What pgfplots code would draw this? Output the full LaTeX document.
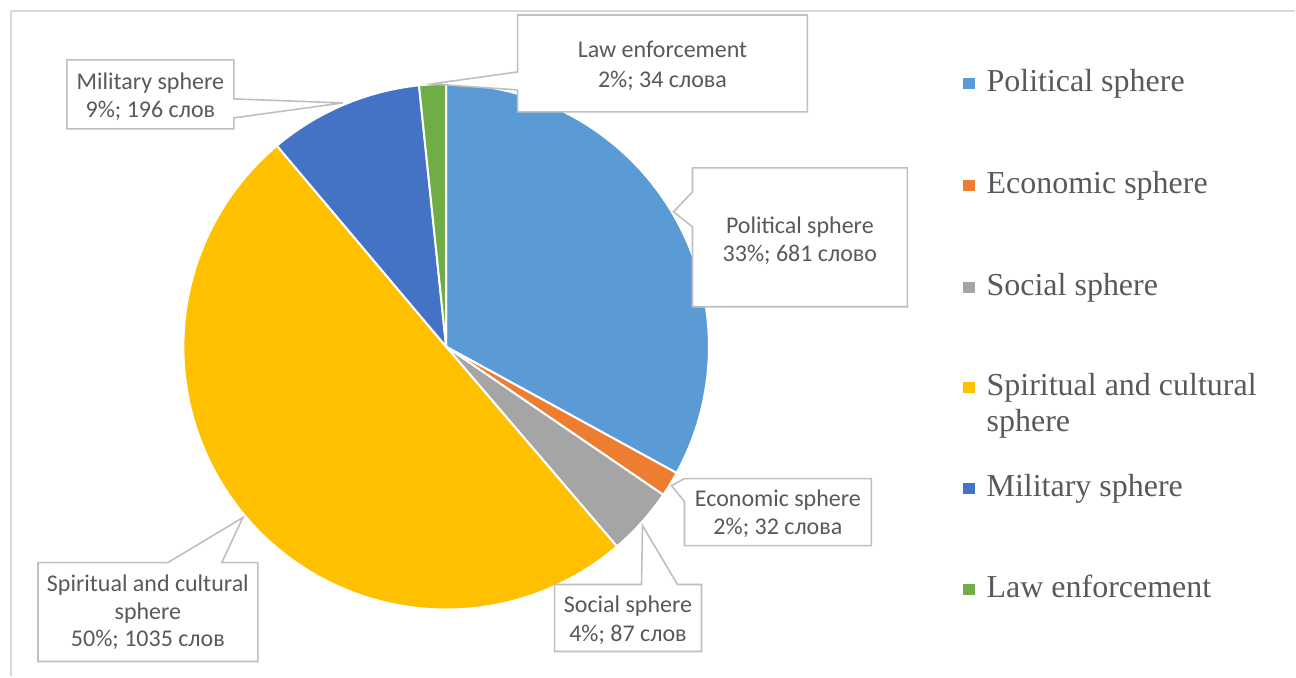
\documentclass[border=0pt]{standalone}
\usepackage{pgfplots}
\pgfplotsset{compat=1.18}
\usepackage{fontspec}
\setmainfont{Liberation Serif}
\newfontfamily\calib{Carlito}
\definecolor{cPol}{HTML}{5B9BD5}
\definecolor{cEco}{HTML}{ED7D31}
\definecolor{cSoc}{HTML}{A5A5A5}
\definecolor{cSpi}{HTML}{FFC000}
\definecolor{cMil}{HTML}{4472C4}
\definecolor{cLaw}{HTML}{70AD47}
\definecolor{txt}{HTML}{595959}
\definecolor{frame}{HTML}{D9D9D9}
\definecolor{cbox}{HTML}{BFBFBF}
% word counts per sphere
\def\vPol{681}
\def\vEco{32}
\def\vSoc{87}
\def\vSpi{1035}
\def\vMil{196}
\def\vLaw{34}
\pgfmathsetmacro\tot{\vPol+\vEco+\vSoc+\vSpi+\vMil+\vLaw}
\pgfmathsetmacro\aA{90}
\pgfmathsetmacro\aB{90-360*(\vPol/\tot)}
\pgfmathsetmacro\aC{90-360*((\vPol+\vEco)/\tot)}
\pgfmathsetmacro\aD{90-360*((\vPol+\vEco+\vSoc)/\tot)}
\pgfmathsetmacro\aE{90-360*((\vPol+\vEco+\vSoc+\vSpi)/\tot)}
\pgfmathsetmacro\aF{90-360*((\vPol+\vEco+\vSoc+\vSpi+\vMil)/\tot)}
\pgfmathsetmacro\aG{-270}
\def\cx{446.5}
\def\cy{347}
\def\R{263}
\begin{document}
\begin{tikzpicture}
\begin{axis}[width=648pt, height=338.5pt, scale only axis,
  xmin=0, xmax=1296, ymin=0, ymax=677, y dir=reverse,
  hide axis, clip=false]
\path (axis cs:0,0) rectangle (axis cs:1296,677);
\draw[frame, line width=1pt] (axis cs:11,677) -- (axis cs:11,11) -- (axis cs:1296,11);
% pie slices
\addplot[fill=cPol, draw=white, line width=1pt, domain=\aB:\aA, samples=90, variable=\t]
  ({\cx+\R*cos(\t)}, {\cy-\R*sin(\t)}) -- (axis cs:\cx,\cy) -- cycle;
\addplot[fill=cEco, draw=white, line width=1pt, domain=\aC:\aB, samples=10, variable=\t]
  ({\cx+\R*cos(\t)}, {\cy-\R*sin(\t)}) -- (axis cs:\cx,\cy) -- cycle;
\addplot[fill=cSoc, draw=white, line width=1pt, domain=\aD:\aC, samples=20, variable=\t]
  ({\cx+\R*cos(\t)}, {\cy-\R*sin(\t)}) -- (axis cs:\cx,\cy) -- cycle;
\addplot[fill=cSpi, draw=white, line width=1pt, domain=\aE:\aD, samples=120, variable=\t]
  ({\cx+\R*cos(\t)}, {\cy-\R*sin(\t)}) -- (axis cs:\cx,\cy) -- cycle;
\addplot[fill=cMil, draw=white, line width=1pt, domain=\aF:\aE, samples=30, variable=\t]
  ({\cx+\R*cos(\t)}, {\cy-\R*sin(\t)}) -- (axis cs:\cx,\cy) -- cycle;
\addplot[fill=cLaw, draw=white, line width=1pt, domain=\aG:\aF, samples=10, variable=\t]
  ({\cx+\R*cos(\t)}, {\cy-\R*sin(\t)}) -- (axis cs:\cx,\cy) -- cycle;
% callouts
\tikzset{callout/.style={fill=white, draw=cbox, line width=0.8pt, line join=miter},
  ct/.style={anchor=base, inner sep=0pt, text=txt, font=\calib\fontsize{12}{14}\selectfont}}
\draw[callout] (axis cs:518,15) -- (axis cs:808,15) -- (axis cs:808,112) -- (axis cs:518,112) -- (axis cs:518,90) -- (axis cs:432,84) -- (axis cs:518,72) -- cycle;
\node[ct] at (axis cs:663,58) {Law enforcement};
\node[ct] at (axis cs:663,88) {2\%; 34 слова};
\draw[callout] (axis cs:67,60) -- (axis cs:234,60) -- (axis cs:234,99) -- (axis cs:343,103) -- (axis cs:234,118) -- (axis cs:234,129) -- (axis cs:67,129) -- cycle;
\node[ct] at (axis cs:150.5,90) {Military sphere};
\node[ct] at (axis cs:150.5,118) {9\%; 196 слов};
\draw[callout] (axis cs:693,168) -- (axis cs:908,168) -- (axis cs:908,307) -- (axis cs:693,307) -- (axis cs:693,227) -- (axis cs:674,212) -- (axis cs:693,192) -- cycle;
\node[ct] at (axis cs:800.5,234) {Political sphere};
\node[ct] at (axis cs:800.5,262) {33\%; 681 слово};
\draw[callout] (axis cs:685,479) -- (axis cs:872,479) -- (axis cs:872,546) -- (axis cs:685,546) -- (axis cs:685,502) -- (axis cs:672,486) -- cycle;
\node[ct] at (axis cs:778.5,507) {Economic sphere};
\node[ct] at (axis cs:778.5,535) {2\%; 32 слова};
\draw[callout] (axis cs:555,585) -- (axis cs:642,585) -- (axis cs:643,526) -- (axis cs:678,585) -- (axis cs:702,585) -- (axis cs:702,652) -- (axis cs:555,652) -- cycle;
\node[ct] at (axis cs:628.5,613) {Social sphere};
\node[ct] at (axis cs:628.5,642) {4\%; 87 слов};
\draw[callout] (axis cs:38,563) -- (axis cs:168,563) -- (axis cs:243,518) -- (axis cs:222,563) -- (axis cs:258,563) -- (axis cs:258,662) -- (axis cs:38,662) -- cycle;
\node[ct] at (axis cs:148,592) {Spiritual and cultural};
\node[ct] at (axis cs:148,620) {sphere};
\node[ct] at (axis cs:148,647) {50\%; 1035 слов};
% legend
\tikzset{lt/.style={anchor=base west, inner sep=0pt, text=txt, font=\fontsize{16}{18}\selectfont}}
\fill[cPol] (axis cs:964,78) rectangle (axis cs:976,89);
\node[lt] at (axis cs:987,92) {Political sphere};
\fill[cEco] (axis cs:964,180) rectangle (axis cs:976,191);
\node[lt] at (axis cs:987,194) {Economic sphere};
\fill[cSoc] (axis cs:964,282) rectangle (axis cs:976,293);
\node[lt] at (axis cs:987,296) {Social sphere};
\fill[cSpi] (axis cs:964,382) rectangle (axis cs:976,393);
\node[lt] at (axis cs:987,396) {Spiritual and cultural};
\node[lt] at (axis cs:987,432) {sphere};
\fill[cMil] (axis cs:964,483) rectangle (axis cs:976,494);
\node[lt] at (axis cs:987,497) {Military sphere};
\fill[cLaw] (axis cs:964,584) rectangle (axis cs:976,595);
\node[lt] at (axis cs:987,598) {Law enforcement};
\end{axis}
\end{tikzpicture}
\end{document}
